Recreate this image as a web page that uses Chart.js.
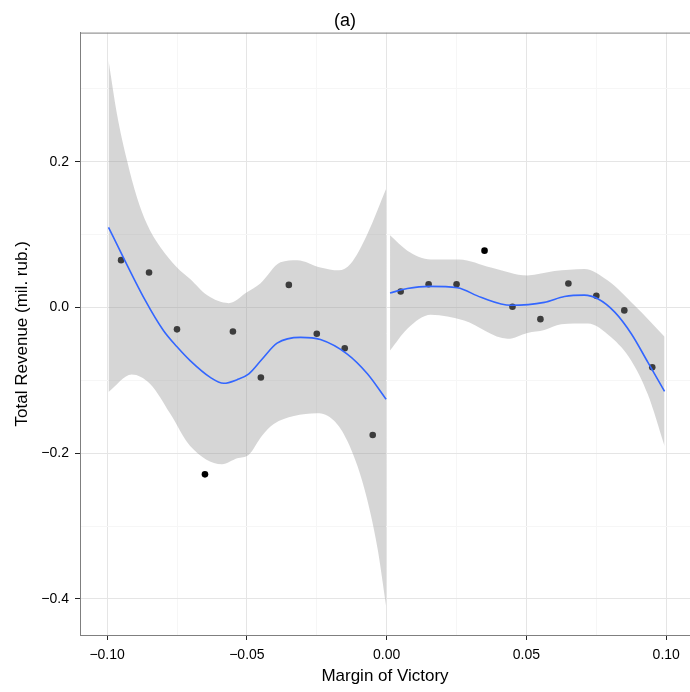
<!DOCTYPE html>
<html>
<head>
<meta charset="utf-8">
<script src="https://cdn.jsdelivr.net/npm/chart.js@4/dist/chart.umd.min.js"></script>
<style>
  html, body { margin: 0; padding: 0; background: #fff; }
  #wrap { width: 690px; height: 692px; }
</style>
</head>
<body>
<div id="wrap"><canvas id="chart"></canvas></div>
<script>
/* ── Data ─────────────────────────────────────────────────────────────── */
const pointX = [-0.095, -0.085, -0.075, -0.065, -0.055, -0.045, -0.035, -0.025, -0.015, -0.005,
                 0.005,  0.015,  0.025,  0.035,  0.045,  0.055,  0.065,  0.075,  0.085,  0.095];
const pointY = [ 0.065,  0.048, -0.030, -0.229, -0.033, -0.096,  0.031, -0.036, -0.056, -0.175,
                 0.022,  0.032,  0.032,  0.078,  0.001, -0.016,  0.033,  0.016, -0.004, -0.082];

// loess fit, left of the cutoff
const leftFitX = [-0.0995, -0.0864, -0.0798, -0.075, -0.0703, -0.0631, -0.0583, -0.0535,
                  -0.0493, -0.0446, -0.0392, -0.0308, -0.0237, -0.0141, -0.0069, -0.0002];
const leftFitY = [0.110, 0.010, -0.032, -0.054, -0.073, -0.096, -0.104, -0.099,
                  -0.091, -0.071, -0.049, -0.041, -0.044, -0.064, -0.091, -0.126];
const leftUpX = [-0.0995, -0.0965, -0.0929, -0.0894, -0.0858, -0.081, -0.075, -0.0703, -0.0643, -0.0565,
                 -0.05, -0.0452, -0.038, -0.032, -0.0237, -0.0171, -0.0129, -0.0069, -0.0002];
const leftUpY = [0.339, 0.266, 0.202, 0.152, 0.115, 0.083, 0.055, 0.039, 0.017, 0.006,
                 0.021, 0.033, 0.062, 0.065, 0.055, 0.051, 0.060, 0.101, 0.163];
const leftLoX = [-0.0995, -0.0912, -0.0846, -0.0774, -0.0703, -0.0589, -0.0535, -0.0493, -0.0446,
                 -0.0404, -0.0332, -0.0249, -0.0189, -0.0141, -0.0081, -0.0033, -0.0002];
const leftLoY = [-0.116, -0.092, -0.105, -0.146, -0.190, -0.215, -0.207, -0.202, -0.176,
                 -0.160, -0.149, -0.145, -0.155, -0.183, -0.247, -0.330, -0.410];

// loess fit, right of the cutoff
const rightFitX = [0.0012, 0.0074, 0.0152, 0.0253, 0.0337, 0.0444, 0.0564, 0.0636,
                   0.0707, 0.0755, 0.0815, 0.0875, 0.0934, 0.0994];
const rightFitY = [0.020, 0.026, 0.029, 0.027, 0.014, 0.003, 0.007, 0.015,
                   0.017, 0.012, -0.006, -0.036, -0.075, -0.115];
const rightUpX = [0.0012, 0.0074, 0.0158, 0.0259, 0.0373, 0.0504, 0.06, 0.0707, 0.0791, 0.0886, 0.0994];
const rightUpY = [0.099, 0.078, 0.066, 0.066, 0.055, 0.044, 0.050, 0.053, 0.037, 0.003, -0.040];
const rightLoX = [0.0012, 0.0074, 0.0158, 0.0277, 0.0433, 0.0504, 0.0564, 0.0624,
                  0.0719, 0.0803, 0.0875, 0.0934, 0.0994];
const rightLoY = [-0.059, -0.029, -0.010, -0.018, -0.043, -0.035, -0.031, -0.023,
                  -0.022, -0.041, -0.073, -0.119, -0.190];

const xMajor = [-0.10, -0.05, 0.00, 0.05, 0.10];
const yMajor = [-0.4, -0.2, 0.0, 0.2];

/* ── Helpers ──────────────────────────────────────────────────────────── */
const FONT = "'Liberation Sans', Arial, Helvetica, sans-serif";
const BAND = "rgba(153,153,153,0.4)";
const BLUE = "#3366ff";

const zip = (xs, ys) => xs.map((x, i) => ({ x, y: ys[i] }));
const isMajor = (list, v) => list.some((m) => Math.abs(m - v) < 1e-6);
const fmt = (v, d) => {
  if (Math.abs(v) < 1e-9) v = 0;
  const s = Math.abs(v).toFixed(d);
  return v < 0 ? "\u2212" + s : s;
};

const lineDs = (data) => ({
  data, showLine: true, pointRadius: 0, borderColor: BLUE, borderWidth: 1.6,
  cubicInterpolationMode: "monotone", fill: false, order: 1,
});
const bandDs = (data, fill) => ({
  data, showLine: true, pointRadius: 0, borderWidth: 0, borderColor: "transparent",
  backgroundColor: BAND, cubicInterpolationMode: "monotone", fill, order: 2,
});

// top edge of the panel border (right edge falls off the canvas)
const panelTop = {
  id: "panelTop",
  afterDraw(chart) {
    const { ctx, chartArea: a } = chart;
    ctx.save();
    ctx.strokeStyle = "#7f7f7f";
    ctx.lineWidth = 1;
    ctx.beginPath();
    ctx.moveTo(a.left, a.top + 0.5);
    ctx.lineTo(a.right, a.top + 0.5);
    ctx.stroke();
    ctx.restore();
  },
};

/* ── Chart ────────────────────────────────────────────────────────────── */
new Chart(document.getElementById("chart"), {
  type: "scatter",
  data: {
    datasets: [
      lineDs(zip(leftFitX, leftFitY)),
      lineDs(zip(rightFitX, rightFitY)),
      bandDs(zip(leftUpX, leftUpY), 3),
      bandDs(zip(leftLoX, leftLoY), false),
      bandDs(zip(rightUpX, rightUpY), 5),
      bandDs(zip(rightLoX, rightLoY), false),
      {
        data: zip(pointX, pointY), pointRadius: 3.3, pointBackgroundColor: "#000",
        pointBorderWidth: 0, order: 3,
      },
    ],
  },
  options: {
    responsive: true,
    maintainAspectRatio: false,
    animation: false,
    layout: { padding: 0, autoPadding: false },
    plugins: {
      legend: { display: false },
      tooltip: { enabled: false },
      title: {
        display: true, text: "(a)", color: "#000",
        font: { family: FONT, size: 18, weight: "normal", lineHeight: 1.2 },
        padding: { top: 10, bottom: 1 },
      },
    },
    scales: {
      x: {
        type: "linear", min: -0.1097, max: 0.1085,
        afterFit: (s) => { s.height = 57; s.paddingLeft = 0; s.paddingRight = 0; },
        border: { color: "#7f7f7f", width: 1 },
        grid: {
          color: (c) => isMajor(xMajor, c.tick.value) ? "#e5e5e5" : "#f6f6f6",
          tickColor: (c) => isMajor(xMajor, c.tick.value) ? "#222" : "transparent",
          tickLength: 5,
        },
        ticks: {
          stepSize: 0.025, includeBounds: false, autoSkip: false, maxRotation: 0,
          padding: 7, color: "#000", font: { family: FONT, size: 14 },
          callback: (v) => isMajor(xMajor, v) ? fmt(v, 2) : "",
        },
        title: {
          display: true, text: "Margin of Victory", color: "#000",
          font: { family: FONT, size: 17, lineHeight: 1.2 },
          padding: { top: 0, bottom: 5 },
        },
      },
      y: {
        type: "linear", min: -0.4495, max: 0.3773,
        afterFit: (s) => { s.width = 80; s.paddingTop = 0; s.paddingBottom = 0; },
        border: { color: "#7f7f7f", width: 1 },
        grid: {
          color: (c) => isMajor(yMajor, c.tick.value) ? "#e5e5e5" : "#f6f6f6",
          tickColor: (c) => isMajor(yMajor, c.tick.value) ? "#222" : "transparent",
          tickLength: 5,
        },
        ticks: {
          stepSize: 0.1, includeBounds: false, autoSkip: false,
          padding: 6, color: "#000", font: { family: FONT, size: 14 },
          callback: (v) => isMajor(yMajor, v) ? fmt(v, 1) : "",
        },
        title: {
          display: true, text: "Total Revenue (mil. rub.)", color: "#000",
          font: { family: FONT, size: 17, lineHeight: 1.2 },
          padding: { top: 12, bottom: 0 },
        },
      },
    },
  },
  plugins: [panelTop],
});
</script>
</body>
</html>
